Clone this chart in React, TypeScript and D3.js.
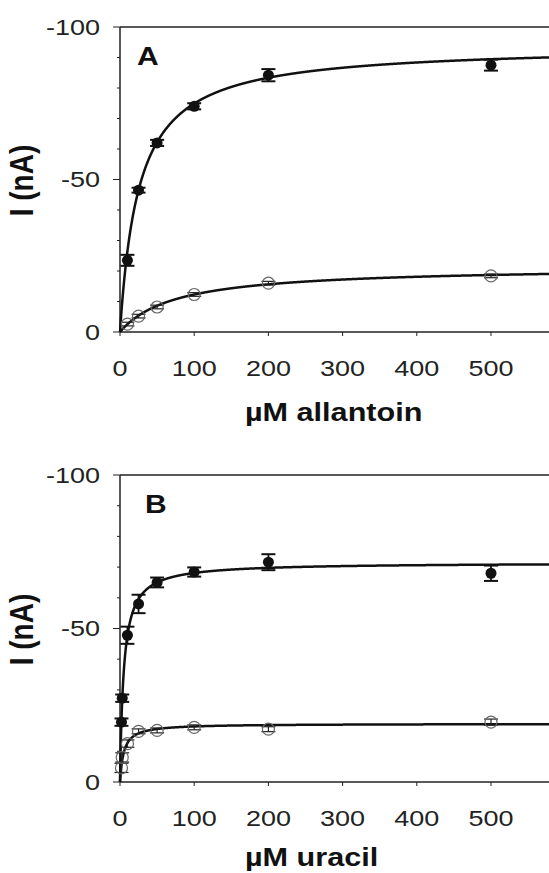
import React from 'react';
import * as d3 from 'd3';

// panel A: allantoin
const allantoinConc = [10, 25, 50, 100, 200, 500];
const allantoinFilled = [-23.5, -46.5, -62, -74, -84.2, -87.5];
const allantoinFilledErr = [1.8, 0.8, 1, 1, 2, 1.8];
const allantoinOpen = [-2.6, -5.2, -8.2, -12.3, -16, -18.4];
const allantoinOpenErr = [0.6, 0.6, 0.6, 0.6, 0.6, 0.6];
// fitted Michaelis-Menten curves [Imax, Km]
const allantoinFitFilled = [-94, 25.5];
const allantoinFitOpen = [-21.5, 75];

// panel B: uracil
const uracilConc = [2, 3, 10, 25, 50, 100, 200, 500];
const uracilFilled = [-19.5, -27.3, -47.8, -58, -65, -68.4, -71.6, -68];
const uracilFilledErr = [1.2, 1.2, 2.8, 3, 1.6, 1.5, 2.6, 2.5];
const uracilOpen = [-4.6, -8, -12.5, -16.5, -16.8, -17.8, -17.2, -19.5];
const uracilOpenErr = [1.5, 1.5, 1.2, 0.8, 0.8, 0.8, 0.8, 1];
const uracilFitFilled = [-71.5, 5];
const uracilFitOpen = [-19, 5];

const xTicks = [0, 100, 200, 300, 400, 500];
const yLabels = [0, -50, -100];
const yMinor = d3.range(0, -101, -10);

const FONT = '"Liberation Sans", Arial, sans-serif';
const SX = 1.2; // the original is stretched sideways

const x = d3.scaleLinear().domain([0, 600]).range([120, 565.2]);

function Panel({ top, bottom, letter, letterX, title, titleDy, conc, filled, filledErr, open, openErr, fitFilled, fitOpen }) {
  const y = d3.scaleLinear().domain([0, -100]).range([bottom, top]);
  const xs = d3.range(0, 600.1, 0.25);
  const mm = ([vmax, km]) => d3.line()(xs.map(s => [x(s), y(vmax * s / (km + s))]));
  const cap = 7;
  const midY = (top + bottom) / 2;

  return (
    <g fontFamily={FONT}>
      {/* frame */}
      <line x1={120} x2={549} y1={top} y2={top} stroke="#222" strokeWidth={1.5} />
      <line x1={120} x2={549} y1={bottom} y2={bottom} stroke="#222" strokeWidth={1.5} />
      <line x1={120} x2={120} y1={top} y2={bottom} stroke="#222" strokeWidth={1.5} />
      {yMinor.map(v => (
        <line key={v} x1={v % 50 === 0 ? 113 : 117} x2={120} y1={y(v)} y2={y(v)} stroke="#222" strokeWidth={1} />
      ))}
      {yLabels.map(v => (
        <g key={v} transform={`translate(100,${y(v)}) scale(${SX},1)`}>
          <text textAnchor="end" dominantBaseline="central" fontSize={22.5} fill="#222">{v}</text>
        </g>
      ))}
      {xTicks.map(v => (
        <g key={v}>
          <line x1={x(v)} x2={x(v)} y1={bottom} y2={bottom + 4} stroke="#222" strokeWidth={1} />
          <g transform={`translate(${x(v)},${bottom + 44}) scale(${SX},1)`}>
            <text textAnchor="middle" fontSize={22.5} fill="#222">{v}</text>
          </g>
        </g>
      ))}
      <g transform={`translate(245,${bottom + titleDy}) scale(${SX},1)`}>
        <text fontSize={25.5} fontWeight="bold" fill="#111">{title}</text>
      </g>
      <g transform={`translate(33,${midY + 1}) scale(${SX},1) rotate(-90)`}>
        <text textAnchor="middle" fontSize={28} fontWeight="bold" fill="#111">I (nA)</text>
      </g>
      <g transform={`translate(${letterX},${top + 38}) scale(${SX},1)`}>
        <text fontSize={25} fontWeight="bold" fill="#111">{letter}</text>
      </g>

      {/* fitted curves */}
      <path d={mm(fitOpen)} fill="none" stroke="#111" strokeWidth={2.5} />
      <path d={mm(fitFilled)} fill="none" stroke="#111" strokeWidth={2.5} />

      {/* open circles */}
      {conc.map((c, i) => (
        <g key={'o' + c}>
          <line x1={x(c)} x2={x(c)} y1={y(open[i] - openErr[i])} y2={y(open[i] + openErr[i])} stroke="#222" strokeWidth={1.2} />
          <line x1={x(c) - cap} x2={x(c) + cap} y1={y(open[i] - openErr[i])} y2={y(open[i] - openErr[i])} stroke="#222" strokeWidth={1.2} />
          <line x1={x(c) - cap} x2={x(c) + cap} y1={y(open[i] + openErr[i])} y2={y(open[i] + openErr[i])} stroke="#222" strokeWidth={1.2} />
          <circle cx={x(c)} cy={y(open[i])} r={6} fill="none" stroke="#666" strokeWidth={1.2} />
        </g>
      ))}

      {/* filled circles */}
      {conc.map((c, i) => (
        <g key={'f' + c}>
          <line x1={x(c)} x2={x(c)} y1={y(filled[i] - filledErr[i])} y2={y(filled[i] + filledErr[i])} stroke="#111" strokeWidth={1.8} />
          <line x1={x(c) - cap} x2={x(c) + cap} y1={y(filled[i] - filledErr[i])} y2={y(filled[i] - filledErr[i])} stroke="#111" strokeWidth={2} />
          <line x1={x(c) - cap} x2={x(c) + cap} y1={y(filled[i] + filledErr[i])} y2={y(filled[i] + filledErr[i])} stroke="#111" strokeWidth={2} />
          <circle cx={x(c)} cy={y(filled[i])} r={5.5} fill="#111" />
        </g>
      ))}
    </g>
  );
}

export default function App() {
  return (
    <svg width={549} height={873} style={{ position: 'absolute', left: 0, top: 0, background: '#fff' }}>
      <rect width={549} height={873} fill="#fff" />
      <Panel top={27} bottom={332} letter="A" letterX={137} title="µM allantoin" titleDy={89}
        conc={allantoinConc} filled={allantoinFilled} filledErr={allantoinFilledErr}
        open={allantoinOpen} openErr={allantoinOpenErr}
        fitFilled={allantoinFitFilled} fitOpen={allantoinFitOpen} />
      <Panel top={475} bottom={782} letter="B" letterX={145} title="µM uracil" titleDy={84}
        conc={uracilConc} filled={uracilFilled} filledErr={uracilFilledErr}
        open={uracilOpen} openErr={uracilOpenErr}
        fitFilled={uracilFitFilled} fitOpen={uracilFitOpen} />
    </svg>
  );
}
